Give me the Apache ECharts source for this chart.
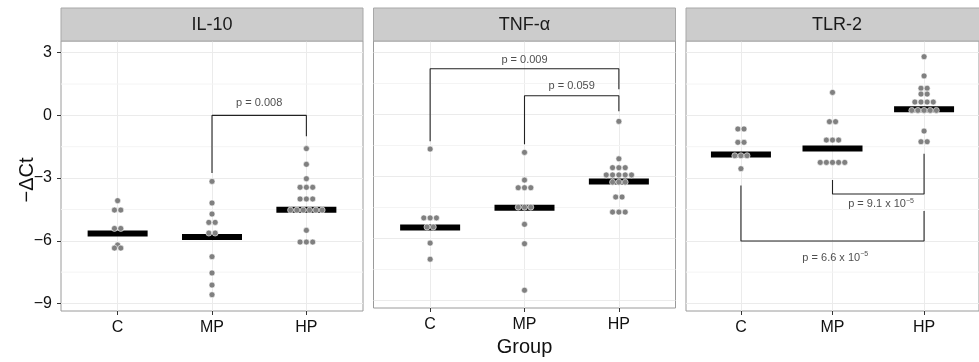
<!DOCTYPE html>
<html><head><meta charset="utf-8">
<script src="https://cdn.jsdelivr.net/npm/echarts@6/dist/echarts.min.js"></script>
<style>html,body{margin:0;padding:0;background:#fff}#c{width:979px;height:362px}</style>
</head><body><div id="c"></div>
<script>
// ---------- data ----------
const groups = ['C', 'MP', 'HP'];
const panelTitles = ['IL-10', 'TNF-α', 'TLR-2'];
const yTicks = [-9, -6, -3, 0, 3];
const yMinorTicks = [-7.5, -4.5, -1.5, 1.5];
const xTicks = [1, 2, 3];

const il10C  = [-4.08, -4.53, -4.53, -5.41, -5.41, -6.2, -6.35, -6.35];
const il10MP = [-3.16, -4.19, -4.72, -5.12, -5.12, -5.63, -5.63, -6.76, -7.54, -8.12, -8.58];
const il10HP = [-1.59, -2.34, -3.03, -3.44, -3.44, -3.44, -4.0, -4.0, -4.0,
                -4.53, -4.53, -4.53, -4.53, -4.53, -4.53, -5.5, -6.06, -6.06, -6.06];
const tnfC  = [-1.67, -5.0, -5.0, -5.0, -5.44, -5.44, -6.22, -7.0];
const tnfMP = [-1.83, -3.17, -3.54, -3.54, -3.54, -4.48, -4.48, -4.48, -5.31, -6.25, -8.5];
const tnfHP = [-0.33, -2.14, -2.57, -2.57, -2.57, -2.92, -2.92, -2.92, -2.92, -2.92,
               -3.27, -3.27, -3.27, -3.99, -3.99, -4.72, -4.72, -4.72];
const tlrC  = [-0.65, -0.65, -1.29, -1.29, -1.93, -1.93, -1.93, -2.55];
const tlrMP = [1.10, -0.30, -0.30, -1.18, -1.18, -1.18, -2.25, -2.25, -2.25, -2.25, -2.25];
const tlrHP = [2.81, 1.89, 1.30, 1.30, 1.02, 1.02, 0.64, 0.64, 0.64, 0.64,
               0.24, 0.24, 0.24, 0.24, 0.24, -0.75, -1.26, -1.26];

const il10Median = [-5.65, -5.82, -4.51];
const tnfMedian  = [-5.47, -4.51, -3.24];
const tlrMedian  = [-1.87, -1.59, 0.30];

// brackets: [fromGroup, toGroup, barY, fromEndY, toEndY, labelX, labelY, label]
const il10Brackets = [[2, 3, 0.0, -2.76, -1.0, 2.5, 0.6, 'p = 0.008']];
const tnfBrackets = [
  [1, 3, 2.22, -1.29, 1.23, 2.0, 2.66, 'p = 0.009'],
  [2, 3, 0.91, -1.44, 0.16, 2.5, 1.36, 'p = 0.059']
];
const tlrBrackets = [
  [2, 3, -3.76, -3.09, -1.83, 2.53, -4.24, 'p = 9.1 x 10{s|−5}'],
  [1, 3, -6.01, -3.35, -4.58, 2.03, -6.8, 'p = 6.6 x 10{s|−5}']
];

const panelValues = [[il10C, il10MP, il10HP], [tnfC, tnfMP, tnfHP], [tlrC, tlrMP, tlrHP]];
const panelMedians = [il10Median, tnfMedian, tlrMedian];
const panelBrackets = [il10Brackets, tnfBrackets, tlrBrackets];

// ---------- layout ----------
const FONT = '"Liberation Sans", Arial, sans-serif';
const panelLeft = [61, 373.5, 686];
const PW = 302, PT = 41, PH = 270;
const X_MIN = 0.4, X_MAX = 3.6, Y_MIN = -9.36, Y_MAX = 3.56;
const DOT_STEP = 0.067;

function dotPositions(values, gi) {
  const counts = {}, seen = {};
  values.forEach(v => { counts[v] = (counts[v] || 0) + 1; });
  return values.map(v => {
    const n = counts[v];
    const i = seen[v] = (seen[v] === undefined ? 0 : seen[v] + 1);
    return [gi + 1 + (i - (n - 1) / 2) * DOT_STEP, v];
  });
}

const chart = echarts.init(document.getElementById('c'), null, { renderer: 'canvas' });

const grid = panelLeft.map(l => ({
  left: l, top: PT, width: PW, height: PH, show: true, z: 0,
  borderColor: '#9a9a9a', borderWidth: 1, backgroundColor: 'transparent'
}));

const xAxis = panelLeft.map((l, i) => ({
  type: 'value', gridIndex: i, min: X_MIN, max: X_MAX, splitNumber: 3, position: 'bottom',
  name: i === 1 ? 'Group' : '', nameLocation: 'middle', nameGap: 29, nameMoveOverlap: false,
  nameTextStyle: { fontFamily: FONT, fontSize: 20, color: '#111' },
  axisLine: { show: false, onZero: false },
  axisTick: { show: true, length: 4, customValues: xTicks, lineStyle: { color: '#333', width: 1 } },
  axisLabel: {
    customValues: xTicks,
    formatter: v => groups[Math.round(v) - 1] || '',
    fontFamily: FONT, fontSize: 16, color: '#111', margin: 9
  },
  splitLine: { show: true, lineStyle: { color: '#EBEBEB', width: 1 } }
}));

const yAxis = panelLeft.map((l, i) => ({
  type: 'value', gridIndex: i, min: Y_MIN, max: Y_MAX, splitNumber: 5, position: 'left',
  axisLine: { show: false, onZero: false },
  axisTick: { show: i === 0, length: 4, customValues: yTicks, lineStyle: { color: '#333', width: 1 } },
  axisLabel: {
    show: i === 0, customValues: yTicks,
    formatter: v => (yTicks.indexOf(v) >= 0 ? String(v).replace('-', '−') : ''),
    fontFamily: FONT, fontSize: 16, color: '#111', margin: 9
  },
  splitLine: { show: true, lineStyle: { color: '#EBEBEB', width: 1 } }
}));

const series = [];
panelValues.forEach((vals, p) => {
  // minor grid lines (from the minor tick values, across the axis extent)
  yMinorTicks.forEach(v => {
    series.push({
      type: 'line', xAxisIndex: p, yAxisIndex: p, z: 1, silent: true,
      symbol: 'none', lineStyle: { color: '#F4F4F4', width: 1 },
      data: [[X_MIN, v], [X_MAX, v]]
    });
  });
  // median bars
  series.push({
    type: 'scatter', xAxisIndex: p, yAxisIndex: p, z: 3, silent: true,
    symbol: 'rect', symbolSize: [60, 6],
    itemStyle: { color: '#000', opacity: 1 },
    data: panelMedians[p].map((m, g) => [g + 1, m])
  });
  // dots
  vals.forEach((arr, g) => {
    series.push({
      type: 'scatter', xAxisIndex: p, yAxisIndex: p, z: 4, silent: true,
      symbol: 'circle', symbolSize: 6,
      itemStyle: { color: '#808080', borderColor: '#ffffff', borderWidth: 0.6, opacity: 1 },
      data: dotPositions(arr, g)
    });
  });
  // brackets
  panelBrackets[p].forEach(b => {
    series.push({
      type: 'line', xAxisIndex: p, yAxisIndex: p, z: 2, silent: true,
      symbol: 'none', lineStyle: { color: '#222', width: 1.1 },
      data: [[b[0], b[3]], [b[0], b[2]], [b[1], b[2]], [b[1], b[4]]]
    });
    series.push({
      type: 'scatter', xAxisIndex: p, yAxisIndex: p, z: 5, silent: true,
      symbolSize: 0,
      label: {
        show: true, position: 'inside', formatter: b[7],
        fontFamily: FONT, fontSize: 11, color: '#222',
        rich: {
          s: { fontFamily: FONT, fontSize: 7, color: '#222', verticalAlign: 'top', lineHeight: 13, padding: [0, 0, 5, 0] }
        }
      },
      data: [[b[5], b[6]]]
    });
  });
});

const graphic = [];
panelLeft.forEach((l, i) => {
  graphic.push({
    type: 'rect', silent: true, z: 10,
    shape: { x: l, y: 8, width: PW, height: 33 },
    style: { fill: '#CCCCCC', stroke: '#A8A8A8', lineWidth: 1 }
  });
  graphic.push({
    type: 'text', silent: true, z: 11,
    x: l + PW / 2, y: 25,
    style: { text: panelTitles[i], font: '18px ' + FONT, fill: '#1a1a1a', align: 'center', verticalAlign: 'middle' }
  });
});
graphic.push({
  type: 'text', silent: true, z: 11,
  x: 27, y: 180, rotation: Math.PI / 2,
  style: { text: '−ΔCt', font: '20px ' + FONT, fill: '#111', align: 'center', verticalAlign: 'middle' }
});

chart.setOption({
  animation: false,
  backgroundColor: '#ffffff',
  grid, xAxis, yAxis, series, graphic
});
</script>
</body></html>
